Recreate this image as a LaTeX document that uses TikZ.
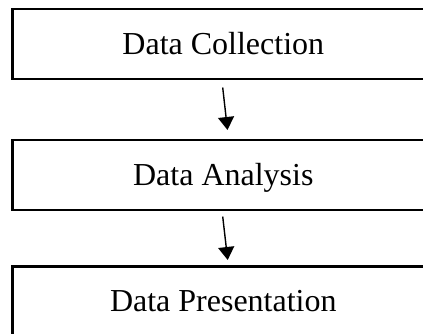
\documentclass[tikz,border=0pt]{standalone}
\usepackage{fontspec}
\setmainfont{Liberation Serif}
\usetikzlibrary{arrows.meta}
\begin{document}
\begin{tikzpicture}[x=1pt,y=1pt,
  stagebox/.style={draw=black, line width=2.6pt, fill=white, outer sep=0pt, inner sep=0pt,
    minimum width=421.3pt, minimum height=70pt, text height=21pt, text depth=0pt,
    font=\fontsize{32}{38}\selectfont},
  flowarrow/.style={line width=1.4pt, -{Triangle[width=16pt,length=13pt]}}]
\useasboundingbox (0,0) rectangle (423,-333);
\clip (0,0) rectangle (423,-333);
\fill[white] (0,0) rectangle (423,-333);
\node[stagebox] (collect) at (223.3,-44) {Data Collection};
\node[stagebox] (analyse) at (223.3,-175) {Data Analysis};
\node[stagebox] (present) at (223.3,-301.3) {Data Presentation};
\coordinate (s1) at ([xshift=-0.6pt,yshift=-8.5pt]collect.south);
\coordinate (e1) at ([xshift=4.2pt,yshift=10pt]analyse.north);
\coordinate (s2) at ([xshift=-0.6pt,yshift=-6.5pt]analyse.south);
\coordinate (e2) at ([xshift=4.4pt,yshift=6.3pt]present.north);
\draw[flowarrow] (s1) -- (e1);
\draw[flowarrow] (s2) -- (e2);
\end{tikzpicture}
\end{document}
